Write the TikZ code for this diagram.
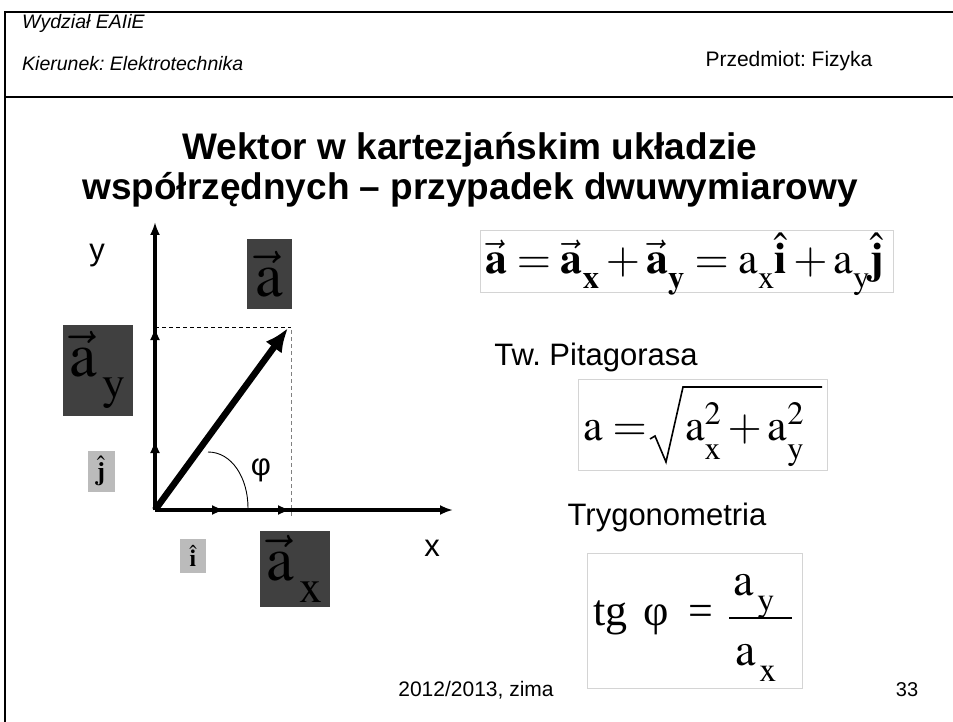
\documentclass[tikz,border=0pt]{standalone}
\usepackage{mathptmx}
\usepackage[no-math]{fontspec}
\setmainfont{Liberation Sans}
\newfontfamily\seriffont{Liberation Serif}
\usetikzlibrary{arrows.meta}
\definecolor{boxdark}{HTML}{404040}
\definecolor{boxlight}{HTML}{BBBBBB}
\definecolor{formframe}{HTML}{D4D4D4}
\definecolor{dashgray}{HTML}{808080}
\newcommand{\dsub}[1]{_{\raisebox{-0.2em}{$\scriptstyle\mathrm{#1}$}}}
\frenchspacing
\begin{document}
\begin{tikzpicture}[x=1pt,y=-1pt,
  darkbox/.style={fill=boxdark,inner sep=0pt,text=black},
  lightbox/.style={fill=boxlight,inner sep=0pt,text=black},
  formbox/.style={draw=formframe,line width=0.8pt,fill=white},
  axisline/.style={line width=3.2pt,-{Latex[length=13pt,width=10pt]}},
  compvec/.style={line width=3.2pt,-{Latex[length=13pt,width=10pt]}},
  mainvec/.style={line width=6.5pt,-{Latex[length=24pt,width=20pt]}},
  hdr/.style={font=\fontsize{19.5}{21}\selectfont\itshape,anchor=base west,inner sep=0pt},
  big/.style={font=\fontsize{31}{34}\selectfont,inner sep=0pt},
  mathtxt/.style={inner sep=0pt,anchor=base west}
]
\useasboundingbox (0,0) rectangle (953,722);
% frame
\draw[line width=2pt] (5,722) -- (5,12) -- (953,12);
\draw[line width=1.3pt] (5,97) -- (953,97);
% header
\node[hdr] (wyd) at (22,29) {Wydział EAIiE};
\node[hdr] (kier) at (22,71) {Kierunek: Elektrotechnika};
\node[font=\fontsize{21}{23}\selectfont,inner sep=0pt] (przed) at (789,61) {Przedmiot: Fizyka};
% title
\node[font=\fontsize{37}{40}\selectfont\bfseries,align=center,inner sep=0pt] (title) at (470,170)
  {Wektor w kartezjańskim układzie\\współrzędnych – przypadek dwuwymiarowy};
% axes
\coordinate (O) at (155,510);
\coordinate (Ytip) at (155,222);
\coordinate (Xtip) at (453,510);
\coordinate (Ay) at (155,327);
\coordinate (Jt) at (155,440);
\coordinate (Ax) at (291,510);
\coordinate (It) at (225,510);
\coordinate (A) at (288,328);
\draw[line width=0.9pt,dash pattern=on 4pt off 3pt] (Ay) -- (291,327);
\draw[dashgray,line width=1pt,dash pattern=on 4pt off 3pt] (291,330) -- (291,517);
\draw[axisline] (O) -- (Ytip);
\draw[axisline] (O) -- (Xtip);
\draw[compvec] (O) -- (Ay);
\draw[compvec] (O) -- (Jt);
\draw[compvec] (O) -- (Ax);
\draw[compvec] (O) -- (It);
\draw[mainvec] (O) -- (A);
% angle arc
\coordinate (arcA) at (208,452);
\coordinate (arcB) at (248,508);
\draw[line width=0.9pt] (arcA) .. controls (232,452) and (248,478) .. (arcB);
\node[big] (phi) at (261,470) {φ};
\node[big] (ylab) at (97,256) {y};
\node[big] (xlab) at (432,548) {x};
% label boxes
\node[darkbox,minimum width=45pt,minimum height=70pt] (boxa) at (269,274)
  {\fontsize{62}{64}\selectfont$\vec{\mathrm{a}}$};
\node[darkbox,minimum width=70pt,minimum height=91pt] (boxay) at (98,370)
  {\fontsize{62}{64}\selectfont$\vec{\mathrm{a}}\dsub{\,y}$};
\node[darkbox,minimum width=70pt,minimum height=76pt] (boxax) at (295,569)
  {\fontsize{62}{64}\selectfont$\vec{\mathrm{a}}\dsub{\,x}$};
\node[lightbox,minimum width=27pt,minimum height=41pt] (boxj) at (101,471)
  {\fontsize{26}{28}\selectfont$\hat{\mathbf{j}}$};
\node[lightbox,minimum width=26pt,minimum height=34pt] (boxi) at (193,556)
  {\fontsize{24}{26}\selectfont$\hat{\mathbf{i}}$};
% formula 1
\draw[formbox] (480,230) rectangle (893,292);
\node[mathtxt] (f1) at (485,273) {\fontsize{44}{48}\selectfont
  $\vec{\mathbf{a}}=\vec{\mathbf{a}}_{\raisebox{-0.2em}{$\scriptstyle\mathbf{x}$}}+\vec{\mathbf{a}}_{\raisebox{-0.2em}{$\scriptstyle\mathbf{y}$}}=\mathrm{a}\dsub{x}\hat{\mathbf{i}}+\mathrm{a}\dsub{y}\hat{\mathbf{j}}$};
% formula 2
\node[big] (pit) at (596,357) {Tw. Pitagorasa};
\draw[formbox] (578,379) rectangle (827,470);
\node[mathtxt] (f2a) at (583,440) {\fontsize{44}{48}\selectfont$\mathrm{a}=$};
\coordinate (r1) at (650,439);
\coordinate (r2) at (655,436);
\coordinate (r3) at (666,462);
\coordinate (r4) at (683,387);
\coordinate (r5) at (822,387);
\draw[line width=1.6pt,line join=miter] (r1) -- (r2) -- (r3) -- (r4) -- (r5);
\node[mathtxt] (f2b) at (685,440) {\fontsize{44}{48}\selectfont
  $\mathrm{a}^{2}\dsub{x}+\mathrm{a}^{2}\dsub{y}$};
% formula 3
\node[big] (tryg) at (667,517) {Trygonometria};
\draw[formbox] (587,553) rectangle (802,688);
\node[mathtxt] (f3a) at (593,625) {\seriffont\fontsize{44}{48}\selectfont
  tg\hspace{16pt}φ\hspace{20pt}=};
\node[mathtxt] (num) at (733,595) {\fontsize{46}{48}\selectfont$\mathrm{a}\dsub{\,y}$};
\coordinate (bar1) at (729,618);
\coordinate (bar2) at (792,618);
\draw[line width=1.4pt] (bar1) -- (bar2);
\node[mathtxt] (den) at (735,665) {\fontsize{46}{48}\selectfont$\mathrm{a}\dsub{\,x}$};
% footer
\node[font=\fontsize{21}{23}\selectfont,inner sep=0pt] (foot) at (476,690) {2012/2013, zima};
\node[font=\fontsize{20}{22}\selectfont,inner sep=0pt] (page) at (907,690) {33};
\end{tikzpicture}
\end{document}
